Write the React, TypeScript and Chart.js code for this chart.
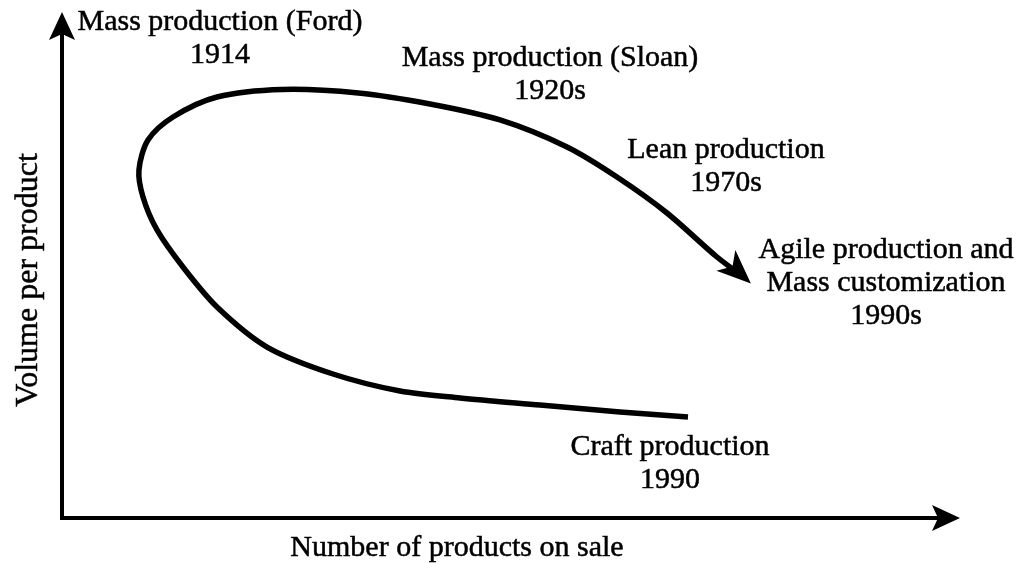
import React, { useEffect, useRef } from "react";
import { Chart, registerables } from "chart.js";

Chart.register(...registerables);

// Path of production paradigms (arbitrary 0-100 units: x = products on sale, y = volume per product)
const pathX = [69.71, 62.14, 53.23, 44.32, 37.64, 30.18, 22.83, 17.26, 13.47, 10.58, 9.02, 8.57, 9.58, 12.36, 17.26, 24.5, 33.0, 40.98, 48.78, 56.24, 61.8, 67.37, 72.94, 76.06];
const pathY = [19.96, 20.95, 22.33, 23.72, 25.1, 28.46, 33.79, 41.7, 49.6, 56.92, 63.44, 68.77, 74.7, 79.25, 83.2, 84.7, 84.0, 81.82, 78.66, 73.32, 67.39, 60.28, 51.58, 47.43];

// Annotation labels (data units, position of first line)
const labelLines = [
  ["Mass production (Ford)", "1914"],
  ["Mass production (Sloan)", "1920s"],
  ["Lean production", "1970s"],
  ["Agile production and", "Mass customization", "1990s"],
  ["Craft production", "1990"],
];
const labelX = [17.59, 54.34, 73.94, 91.76, 67.71];
const labelY = [98.02, 90.91, 72.73, 52.96, 14.03];

const xTitle = "Number of products on sale";
const yTitle = "Volume per product";

const FONT = "30px 'Liberation Serif', 'Times New Roman', serif";
const YFONT = "32px 'Liberation Serif', 'Times New Roman', serif";

export default function App() {
  const ref = useRef<HTMLCanvasElement>(null);

  useEffect(() => {
    const data = pathX.map((x, i) => ({ x, y: pathY[i] }));

    const deco = {
      id: "deco",
      afterDatasetsDraw(chart: any) {
        const ctx = chart.ctx;
        const { left, right, top, bottom } = chart.chartArea;
        const xs = chart.scales.x;
        const ys = chart.scales.y;
        ctx.save();
        ctx.fillStyle = "#000";
        ctx.strokeStyle = "#000";
        // axes
        ctx.lineWidth = 4;
        ctx.beginPath();
        ctx.moveTo(left, top + 20);
        ctx.lineTo(left, bottom);
        ctx.lineTo(right - 20, bottom);
        ctx.stroke();
        // y arrow
        ctx.beginPath();
        ctx.moveTo(left, top);
        ctx.lineTo(left - 13, top + 28);
        ctx.lineTo(left, top + 22);
        ctx.lineTo(left + 13, top + 28);
        ctx.closePath();
        ctx.fill();
        // x arrow
        ctx.beginPath();
        ctx.moveTo(right, bottom);
        ctx.lineTo(right - 28, bottom - 13);
        ctx.lineTo(right - 22, bottom);
        ctx.lineTo(right - 28, bottom + 13);
        ctx.closePath();
        ctx.fill();

        // curve arrowhead
        const meta = chart.getDatasetMeta(0);
        const pts = meta.data;
        const p1 = pts[pts.length - 1];
        const p0 = pts[pts.length - 2];
        const ang = Math.atan2(p1.y - p0.y, p1.x - p0.x) + 0.1;
        ctx.translate(p1.x, p1.y);
        ctx.rotate(ang);
        ctx.beginPath();
        ctx.moveTo(8, 0);
        ctx.lineTo(-26, -14);
        ctx.lineTo(-17, 0);
        ctx.lineTo(-26, 14);
        ctx.closePath();
        ctx.fill();
        ctx.setTransform(1, 0, 0, 1, 0, 0);

        // labels
        ctx.font = FONT;
        ctx.textAlign = "center";
        ctx.textBaseline = "middle";
        ctx.lineWidth = 0.5;
        labelLines.forEach((lines, i) => {
          const cx = xs.getPixelForValue(labelX[i]);
          const cy = ys.getPixelForValue(labelY[i]);
          const lh = 33;
          lines.forEach((t, j) => {
            ctx.fillText(t, cx, cy + j * lh);
            ctx.strokeText(t, cx, cy + j * lh);
          });
        });
        // axis titles
        ctx.fillText(xTitle, left + 395, bottom + 30);
        ctx.strokeText(xTitle, left + 395, bottom + 30);
        ctx.font = YFONT;
        ctx.translate(left - 33, (top + bottom) / 2 + 15);
        ctx.rotate(-Math.PI / 2);
        ctx.fillText(yTitle, 0, 0);
        ctx.strokeText(yTitle, 0, 0);
        ctx.restore();
      },
    };

    const chart = new Chart(ref.current!, {
      type: "scatter",
      data: {
        datasets: [
          {
            data,
            showLine: true,
            borderColor: "#000",
            borderWidth: 5.5,
            pointRadius: 0,
            tension: 0.3,
            fill: false,
          },
        ],
      },
      options: {
        animation: false,
        responsive: true,
        maintainAspectRatio: false,
        layout: { padding: { left: 62, right: 59, top: 12, bottom: 45 } },
        plugins: { legend: { display: false }, tooltip: { enabled: false } },
        scales: {
          x: { type: "linear", min: 0, max: 100, display: false },
          y: { type: "linear", min: 0, max: 100, display: false },
        },
      },
      plugins: [deco],
    });
    return () => chart.destroy();
  }, []);

  return (
    <div style={{ position: "fixed", left: 0, top: 0, width: 1019, height: 563, background: "#fff" }}>
      <canvas ref={ref} />
    </div>
  );
}
